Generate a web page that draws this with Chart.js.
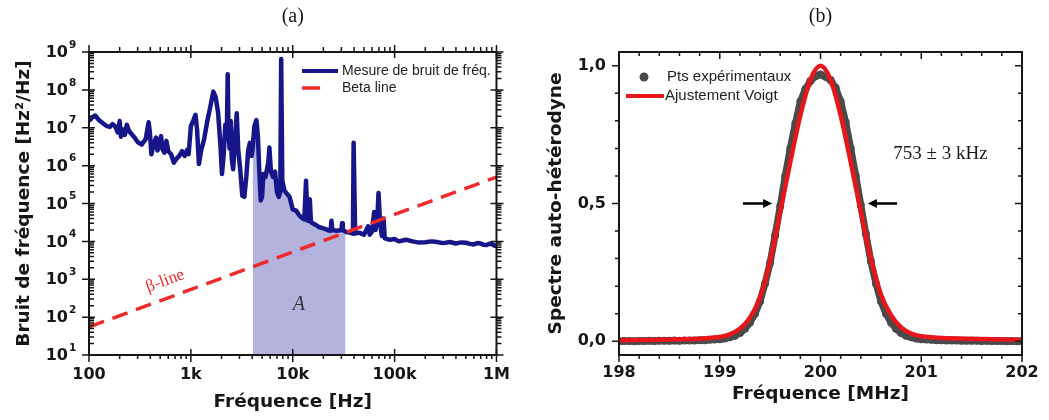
<!DOCTYPE html>
<html><head><meta charset="utf-8">
<script src="https://cdn.jsdelivr.net/npm/chart.js@4.4.1/dist/chart.umd.min.js"></script>
<style>
html,body{margin:0;padding:0;background:#fff;}
#wrap{position:relative;width:1049px;height:420px;overflow:hidden;}
#ca{position:absolute;left:0;top:0;}
#cb{position:absolute;left:520px;top:0;}
</style></head><body>
<div id="wrap"><canvas id="ca" width="520" height="420"></canvas><canvas id="cb" width="529" height="420"></canvas></div>
<script>
// ---------------- Panel (a) data ----------------
const noiseFreqHz = [
100,108,115,125,138,150,160,170,180,192,
200,206,215,225,235,248,260,280,300,330,
360,385,395,410,430,455,470,490,510,525,
550,575,600,640,680,720,770,820,870,920,
950,1000,1060,1110,1150,1200,1260,1350,1450,1550,
1660,1750,1850,1950,2020,2100,2180,2250,2300,2340,
2400,2460,2520,2600,2700,2820,2920,3050,3200,3350,
3500,3650,3800,3950,4050,4200,4400,4550,4700,4850,
5000,5150,5400,5750,5900,6100,6400,6700,7000,7300,
7550,7700,7900,8300,8800,9300,10000,10800,11500,12300,
13000,13500,14000,14700,15100,16500,18000,20000,22000,23500,
24000,24500,27000,30000,30500,31000,33000,36000,39000,39600,
41000,45000,50000,55000,57000,60000,63000,65000,68000,69500,
72000,75000,78000,80000,90000,100000,110000,120000,130000,150000,
170000,200000,230000,250000,300000,350000,400000,450000,500000,550000,
600000,650000,700000,750000,800000,850000,900000,950000,1000000
];
const noiseValue = [
1.5e7,1.9e7,2.1e7,1.6e7,1.3e7,1.1e7,1.05e7,1.25e7,1.1e7,7.5e6,
1.5e7,5.8e6,9e6,6.5e6,1.2e7,8e6,7e6,5.5e6,4.2e6,3.6e6,
5e6,1.4e7,8e6,2e6,3.5e6,5.5e6,2.5e6,3.5e6,6e6,2.8e6,
2.2e6,4.5e6,2.4e6,2.0e6,1.2e6,1.5e6,1.8e6,2.4e6,1.8e6,2.6e6,
2.0e6,1.1e7,1.6e7,2.2e7,9e6,1.1e6,2.5e6,5e6,1.5e7,3.5e7,
9e7,6.5e7,2.5e7,3.5e6,6e5,2e6,1.2e7,5e6,2.6e8,8e6,
2.8e6,1.5e7,1.5e6,8e5,4e6,2.4e7,2.5e6,8e5,1.6e5,1.5e5,
5e5,2.5e6,4e6,1.8e6,3e6,1.1e7,1.6e7,6e6,7e5,1.2e5,
1.5e5,6e5,5e5,1.2e6,3e6,7e5,5e5,7e5,2e5,1.5e5,
2e5,6.5e8,4e5,2.2e5,1.8e5,1.5e5,7e4,6.5e4,5e4,4.2e4,
3.8e4,4e5,3.5e4,1.3e5,3.2e4,2.8e4,2.4e4,2.2e4,2e4,1.9e4,
3.5e4,2e4,1.9e4,2e4,3e4,2e4,1.8e4,1.7e4,1.6e4,4e6,
1.6e4,1.7e4,1.5e4,2.5e4,1.5e4,1.8e4,6e4,2e4,5e4,1.9e5,
3e4,1.4e4,4e4,1.2e4,1.1e4,1.15e4,1.0e4,1.05e4,1.1e4,1e4,
9.4e3,9.5e3,1.0e4,9.8e3,9e3,9.6e3,8.8e3,9.4e3,9.2e3,8.6e3,
8.3e3,9e3,8.8e3,8.1e3,8e3,8.7e3,8.5e3,7.8e3,7.5e3
];
const betaFreqHz = [100, 1000000];
const betaValue = [55, 500000];
const areaRangeHz = [4050, 33000];
const xDecadesA = [100, 1000, 10000, 100000, 1000000];
const xLabelsA = ['100', '1k', '10k', '100k', '1M'];
const yExponentsA = [1, 2, 3, 4, 5, 6, 7, 8, 9];
const legendLabelsA = ['Mesure de bruit de fréq.', 'Beta line'];
const annotAreaA = {x: 11500, y: 210, text: 'A'};
const annotBetaA = {x: 560, y: 900, text: 'β-line'};

// ---------------- Panel (b) data ----------------
const expFreqMHz = [
198.00,198.05,198.10,198.15,198.20,198.25,198.30,198.35,198.40,198.45,
198.50,198.55,198.60,198.65,198.70,198.75,198.80,198.85,198.90,198.95,
199.00,199.05,199.10,199.15,199.20,199.25,199.30,199.35,199.40,199.45,
199.50,199.55,199.60,199.65,199.70,199.75,199.80,199.85,199.90,199.95,
200.00,200.05,200.10,200.15,200.20,200.25,200.30,200.35,200.40,200.45,
200.50,200.55,200.60,200.65,200.70,200.75,200.80,200.85,200.90,200.95,
201.00,201.05,201.10,201.15,201.20,201.25,201.30,201.35,201.40,201.45,
201.50,201.55,201.60,201.65,201.70,201.75,201.80,201.85,201.90,201.95,
202.00
];
const expValue = [
0.000,0.001,0.001,0.000,0.001,0.001,0.002,0.001,0.002,0.002,
0.002,0.003,0.002,0.003,0.003,0.003,0.004,0.004,0.005,0.006,
0.007,0.010,0.014,0.020,0.030,0.045,0.068,0.100,0.145,0.210,
0.285,0.385,0.490,0.600,0.700,0.790,0.870,0.915,0.945,0.962,
0.968,0.960,0.948,0.920,0.870,0.795,0.700,0.600,0.495,0.390,
0.290,0.210,0.145,0.100,0.068,0.045,0.030,0.020,0.014,0.010,
0.007,0.006,0.005,0.004,0.004,0.003,0.003,0.003,0.002,0.002,
0.002,0.002,0.001,0.002,0.001,0.001,0.001,0.000,0.001,0.000,
0.000
];
const fitFreqMHz = [198.0,198.5,199.0,199.1,199.2,199.3,199.4,199.5,199.6,199.7,199.8,199.9,200.0,200.1,200.2,200.3,200.4,200.5,200.6,200.7,200.8,200.9,201.0,201.5,202.0];
const fitValue   = [0.004,0.006,0.015,0.025,0.045,0.085,0.16,0.29,0.47,0.65,0.82,0.95,1.0,0.95,0.82,0.65,0.47,0.30,0.17,0.095,0.05,0.028,0.018,0.009,0.005];
const xTicksB = [198, 199, 200, 201, 202];
const yTicksB = [0, 0.5, 1.0];
const legendLabelsB = ['Pts expérimentaux', 'Ajustement Voigt'];
const arrowsB = [{from: 199.23, to: 199.52, y: 0.5}, {from: 200.76, to: 200.47, y: 0.5}];
const annotWidthB = {x: 201.19, y: 0.68, text: '753 ± 3 kHz'};

// ---------------- styles ----------------
const SANS_B = "'DejaVu Sans', sans-serif";
const LEG = "'Liberation Sans', Arial, sans-serif";
const SERIF = "'Liberation Serif', 'Times New Roman', serif";
const INK = '#161616';
const BLUE = '#16168a';
const RED = '#ee2a2a';
Chart.defaults.color = INK;

function strokeTicks(ctx, pxs, side, a, outLen, inLen) {
  ctx.beginPath();
  for (const p of pxs) {
    if (side === 'bottom') { ctx.moveTo(p, a.bottom - inLen); ctx.lineTo(p, a.bottom + outLen); }
    if (side === 'top') { ctx.moveTo(p, a.top + inLen); ctx.lineTo(p, a.top - outLen); }
    if (side === 'left') { ctx.moveTo(a.left + inLen, p); ctx.lineTo(a.left - outLen, p); }
    if (side === 'right') { ctx.moveTo(a.right - inLen, p); ctx.lineTo(a.right + outLen, p); }
  }
  ctx.stroke();
}

// ---------------- Chart (a) ----------------
const noisePts = noiseFreqHz.map((f, i) => ({x: f, y: noiseValue[i]}));
const areaPts = noisePts.filter(p => p.x >= areaRangeHz[0] && p.x <= areaRangeHz[1]);
const betaPts = betaFreqHz.map((f, i) => ({x: f, y: betaValue[i]}));

const panelA = {
  id: 'panelA',
  afterDraw(chart) {
    const {ctx, chartArea: a, scales: {x, y}} = chart;
    ctx.save();
    ctx.strokeStyle = INK;
    ctx.lineWidth = 1.5;
    const majX = xDecadesA.map(v => x.getPixelForValue(v));
    const minX = [];
    xDecadesA.slice(0, -1).forEach(d => { for (let k = 2; k <= 9; k++) minX.push(x.getPixelForValue(d * k)); });
    const majY = yExponentsA.map(e => y.getPixelForValue(Math.pow(10, e)));
    const minY = [];
    yExponentsA.slice(0, -1).forEach(e => { for (let k = 2; k <= 9; k++) minY.push(y.getPixelForValue(k * Math.pow(10, e))); });
    strokeTicks(ctx, majX, 'bottom', a, 7, 6); strokeTicks(ctx, majX, 'top', a, 7, 6);
    strokeTicks(ctx, minX, 'bottom', a, 4, 0); strokeTicks(ctx, minX, 'top', a, 5, 0);
    strokeTicks(ctx, majY, 'left', a, 7, 6); strokeTicks(ctx, majY, 'right', a, 7, 6);
    strokeTicks(ctx, minY, 'left', a, 0, 5); strokeTicks(ctx, minY, 'right', a, 5, 0);
    ctx.lineWidth = 2;
    ctx.strokeRect(a.left, a.top, a.right - a.left, a.bottom - a.top);
    // y tick labels with superscript exponents
    ctx.fillStyle = INK;
    yExponentsA.forEach((e, i) => {
      const py = majY[i];
      ctx.font = `bold 16px ${SANS_B}`;
      ctx.textAlign = 'right'; ctx.textBaseline = 'middle';
      ctx.fillText('10', a.left - 21, py + 1);
      ctx.font = `bold 10.5px ${SANS_B}`;
      ctx.textAlign = 'left';
      ctx.fillText(String(e), a.left - 20, py - 7);
    });
    // panel title
    ctx.font = `20px ${SERIF}`;
    ctx.textAlign = 'center'; ctx.textBaseline = 'middle';
    ctx.fillText('(a)', (a.left + a.right) / 2, 17);
    // legend
    const lx = a.left + 213, ly1 = a.top + 19, ly2 = a.top + 36;
    ctx.lineCap = 'butt';
    ctx.strokeStyle = BLUE; ctx.lineWidth = 4;
    ctx.beginPath(); ctx.moveTo(lx, ly1); ctx.lineTo(lx + 36, ly1); ctx.stroke();
    ctx.strokeStyle = RED; ctx.lineWidth = 3.5;
    ctx.beginPath(); ctx.moveTo(lx, ly2); ctx.lineTo(lx + 18, ly2); ctx.stroke();
    ctx.fillStyle = '#222';
    ctx.font = `14px ${LEG}`;
    ctx.textAlign = 'left';
    ctx.fillText(legendLabelsA[0], lx + 40, ly1);
    ctx.fillText(legendLabelsA[1], lx + 40, ly2);
    // area label
    ctx.fillStyle = '#333';
    ctx.font = `italic 20px ${SERIF}`;
    ctx.textAlign = 'center';
    ctx.fillText(annotAreaA.text, x.getPixelForValue(annotAreaA.x), y.getPixelForValue(annotAreaA.y));
    // beta-line label, rotated along the line
    const bx0 = x.getPixelForValue(betaPts[0].x), by0 = y.getPixelForValue(betaPts[0].y);
    const bx1 = x.getPixelForValue(betaPts[1].x), by1 = y.getPixelForValue(betaPts[1].y);
    const ang = Math.atan2(by1 - by0, bx1 - bx0);
    ctx.translate(x.getPixelForValue(annotBetaA.x), y.getPixelForValue(annotBetaA.y));
    ctx.rotate(ang);
    ctx.fillStyle = RED;
    ctx.font = `17px ${SERIF}`;
    ctx.fillText(annotBetaA.text, 0, 0);
    ctx.restore();
  }
};

new Chart(document.getElementById('ca'), {
  type: 'line',
  data: {
    datasets: [
      {data: betaPts, borderColor: RED, borderWidth: 3.5, borderDash: [16, 9], pointRadius: 0, fill: false, order: 0},
      {data: noisePts, borderColor: BLUE, borderWidth: 4.5, borderJoinStyle: 'round', pointRadius: 0, fill: false, order: 1, tension: 0},
      {data: areaPts, borderWidth: 0, borderColor: 'rgba(0,0,0,0)', backgroundColor: '#b3b3dd', pointRadius: 0, fill: 'start', order: 2, tension: 0}
    ]
  },
  options: {
    responsive: false, animation: false, events: [],
    layout: {padding: {left: 0, top: 52, right: 22, bottom: 0}},
    plugins: {legend: {display: false}, tooltip: {enabled: false}},
    scales: {
      x: {
        type: 'logarithmic', min: 100, max: 1000000,
        afterBuildTicks: s => { s.ticks = xDecadesA.map(v => ({value: v})); },
        afterFit: s => { s.height = 65; },
        grid: {display: false, drawTicks: false}, border: {display: false},
        ticks: {autoSkip: false, maxRotation: 0, padding: 10, color: INK,
                font: {family: SANS_B, size: 16, weight: 'bold'},
                callback: (v, i) => xLabelsA[i]},
        title: {display: true, text: 'Fréquence [Hz]', color: INK,
                font: {family: SANS_B, size: 18.5, weight: 'bold'}, padding: {top: 0, bottom: 7}}
      },
      y: {
        type: 'logarithmic', min: 10, max: 1e9,
        afterFit: s => { s.width = 89; },
        grid: {display: false, drawTicks: false}, border: {display: false},
        ticks: {display: false},
        title: {display: true, text: 'Bruit de fréquence [Hz²/Hz]', color: INK,
                font: {family: SANS_B, size: 18.5, weight: 'bold'}, padding: {top: 13, bottom: 0}}
      }
    }
  },
  plugins: [panelA]
});

// ---------------- Chart (b) ----------------
const expPts = expFreqMHz.map((f, i) => ({x: f, y: expValue[i]}));
const fitPts = fitFreqMHz.map((f, i) => ({x: f, y: fitValue[i]}));
const GRAY = '#4a4a4a';

const panelB = {
  id: 'panelB',
  afterDraw(chart) {
    const {ctx, chartArea: a, scales: {x, y}} = chart;
    ctx.save();
    ctx.strokeStyle = INK;
    ctx.lineWidth = 1.5;
    const majX = xTicksB.map(v => x.getPixelForValue(v));
    const minX = [];
    xTicksB.slice(0, -1).forEach(d => { for (let k = 1; k <= 4; k++) minX.push(x.getPixelForValue(d + k * 0.2)); });
    const majY = yTicksB.map(v => y.getPixelForValue(v));
    const minY = [];
    [0, 0.5].forEach(d => { for (let k = 1; k <= 4; k++) minY.push(y.getPixelForValue(d + k * 0.1)); });
    strokeTicks(ctx, majX, 'bottom', a, 7, 0); strokeTicks(ctx, minX, 'bottom', a, 4, 0);
    strokeTicks(ctx, majX, 'top', a, 0, 7); strokeTicks(ctx, minX, 'top', a, 0, 4);
    strokeTicks(ctx, majY, 'left', a, 7, 0); strokeTicks(ctx, minY, 'left', a, 4, 0);
    strokeTicks(ctx, majY, 'right', a, 0, 7); strokeTicks(ctx, minY, 'right', a, 0, 4);
    ctx.lineWidth = 2;
    ctx.strokeRect(a.left, a.top, a.right - a.left, a.bottom - a.top);
    // panel title
    ctx.fillStyle = INK;
    ctx.font = `20px ${SERIF}`;
    ctx.textAlign = 'center'; ctx.textBaseline = 'middle';
    ctx.fillText('(b)', (a.left + a.right) / 2, 17);
    // legend
    const ly1 = a.top + 25, ly2 = a.top + 44;
    ctx.fillStyle = GRAY;
    ctx.beginPath(); ctx.arc(a.left + 25, ly1, 4.5, 0, Math.PI * 2); ctx.fill();
    ctx.strokeStyle = '#e8161b'; ctx.lineWidth = 4;
    ctx.beginPath(); ctx.moveTo(a.left + 7, ly2); ctx.lineTo(a.left + 45, ly2); ctx.stroke();
    ctx.fillStyle = '#222';
    ctx.font = `15px ${LEG}`;
    ctx.textAlign = 'left';
    ctx.fillText(legendLabelsB[0], a.left + 48, ly1);
    ctx.fillText(legendLabelsB[1], a.left + 46, ly2);
    // width annotation
    ctx.fillStyle = '#1a1a1a';
    ctx.font = `19px ${SERIF}`;
    ctx.textAlign = 'center';
    ctx.fillText(annotWidthB.text, x.getPixelForValue(annotWidthB.x), y.getPixelForValue(annotWidthB.y));
    // arrows
    ctx.strokeStyle = '#000'; ctx.fillStyle = '#000'; ctx.lineWidth = 2.5;
    arrowsB.forEach(ar => {
      const x0 = x.getPixelForValue(ar.from), x1 = x.getPixelForValue(ar.to), py = y.getPixelForValue(ar.y);
      const dir = Math.sign(x1 - x0);
      ctx.beginPath(); ctx.moveTo(x0, py); ctx.lineTo(x1 - dir * 6, py); ctx.stroke();
      ctx.beginPath(); ctx.moveTo(x1, py); ctx.lineTo(x1 - dir * 9, py - 4.5); ctx.lineTo(x1 - dir * 9, py + 4.5); ctx.closePath(); ctx.fill();
    });
    ctx.restore();
  }
};

new Chart(document.getElementById('cb'), {
  type: 'line',
  data: {
    datasets: [
      {data: fitPts, borderColor: '#e8161b', borderWidth: 4.5, pointRadius: 0, fill: false,
       cubicInterpolationMode: 'monotone', order: 0},
      {data: expPts, borderColor: GRAY, borderWidth: 7, pointRadius: 4, pointBorderWidth: 0,
       pointBackgroundColor: GRAY, fill: false, tension: 0, order: 1}
    ]
  },
  options: {
    responsive: false, animation: false, events: [],
    layout: {padding: {left: 0, top: 52, right: 27, bottom: 0}},
    plugins: {legend: {display: false}, tooltip: {enabled: false}},
    scales: {
      x: {
        type: 'linear', min: 198, max: 202,
        afterBuildTicks: s => { s.ticks = xTicksB.map(v => ({value: v})); },
        afterFit: s => { s.height = 65; },
        grid: {display: false, drawTicks: false}, border: {display: false},
        ticks: {autoSkip: false, maxRotation: 0, padding: 8, color: INK,
                font: {family: SANS_B, size: 16, weight: 'bold'},
                callback: v => String(v)},
        title: {display: true, text: 'Fréquence [MHz]', color: INK,
                font: {family: SANS_B, size: 18.5, weight: 'bold'}, padding: {top: 0, bottom: 15}}
      },
      y: {
        type: 'linear', min: -0.05, max: 1.05,
        afterBuildTicks: s => { s.ticks = yTicksB.map(v => ({value: v})); },
        afterFit: s => { s.width = 99; },
        grid: {display: false, drawTicks: false}, border: {display: false},
        ticks: {autoSkip: false, padding: 13, color: INK,
                font: {family: SANS_B, size: 16, weight: 'bold'},
                callback: v => v.toFixed(1).replace('.', ',')},
        title: {display: true, text: 'Spectre auto-hétérodyne', color: INK,
                font: {family: SANS_B, size: 18.5, weight: 'bold'}, padding: {top: 25, bottom: 0}}
      }
    }
  },
  plugins: [panelB]
});
</script>
</body></html>
